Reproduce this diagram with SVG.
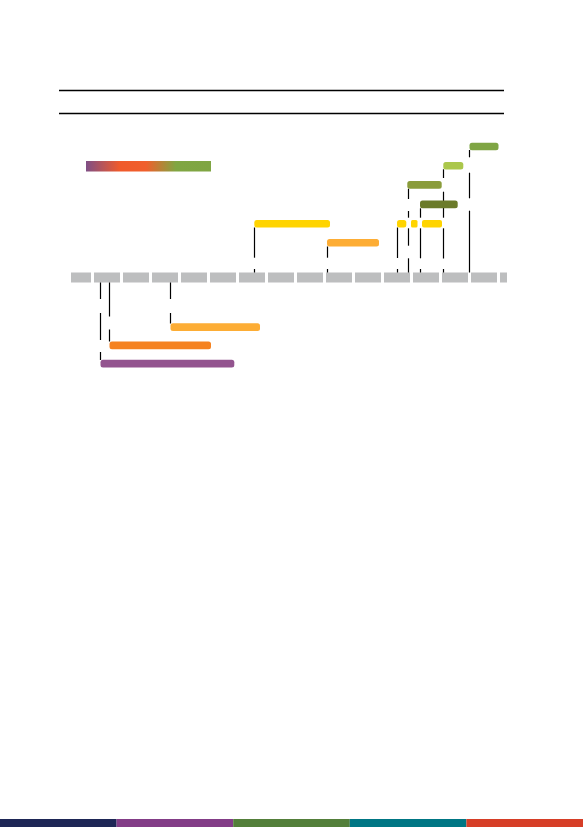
<svg xmlns="http://www.w3.org/2000/svg" width="583" height="827" viewBox="0 0 583 827">
  <defs>
    <linearGradient id="grad" x1="0" y1="0" x2="1" y2="0">
      <stop offset="0" stop-color="#7f4f86"/>
      <stop offset="0.27" stop-color="#f05a2b"/>
      <stop offset="0.48" stop-color="#f05f2c"/>
      <stop offset="0.72" stop-color="#80a642"/>
      <stop offset="1" stop-color="#7fa543"/>
    </linearGradient>
    <style>
      .rule { stroke: #000; stroke-width: 1.3; fill: none; }
      .conn line { stroke: #000; stroke-width: 1.2; }
      .seg { fill: #bdbebf; }
      .bar { stroke: none; }
    </style>
  </defs>
  <rect width="583" height="827" fill="#ffffff"/>

  <g id="header">
    <line class="rule" x1="59" y1="90.5" x2="504" y2="90.5"/>
    <line class="rule" x1="59" y1="113.5" x2="504" y2="113.5"/>
  </g>

  <g id="legend">
    <rect x="86" y="161" width="125" height="10.5" fill="url(#grad)"/>
  </g>

  <g id="timeline">
    <rect class="seg" x="71" y="272.5" width="20" height="10"/>
    <rect class="seg" x="94" y="272.5" width="26" height="10"/>
    <rect class="seg" x="123" y="272.5" width="26" height="10"/>
    <rect class="seg" x="152" y="272.5" width="26" height="10"/>
    <rect class="seg" x="181" y="272.5" width="26" height="10"/>
    <rect class="seg" x="210" y="272.5" width="26" height="10"/>
    <rect class="seg" x="239" y="272.5" width="26" height="10"/>
    <rect class="seg" x="268" y="272.5" width="26" height="10"/>
    <rect class="seg" x="297" y="272.5" width="26" height="10"/>
    <rect class="seg" x="326" y="272.5" width="26" height="10"/>
    <rect class="seg" x="355" y="272.5" width="26" height="10"/>
    <rect class="seg" x="384" y="272.5" width="26" height="10"/>
    <rect class="seg" x="413" y="272.5" width="26" height="10"/>
    <rect class="seg" x="442" y="272.5" width="26" height="10"/>
    <rect class="seg" x="471" y="272.5" width="26" height="10"/>
    <rect class="seg" x="500" y="272.5" width="7" height="10"/>
  </g>

  <g id="connectors" class="conn">
    <line x1="100.5" y1="282.5" x2="100.5" y2="299"/>
    <line x1="100.5" y1="313" x2="100.5" y2="340"/>
    <line x1="100.5" y1="352" x2="100.5" y2="360"/>
    <line x1="109.5" y1="282.5" x2="109.5" y2="316.5"/>
    <line x1="109.5" y1="329.5" x2="109.5" y2="341.5"/>
    <line x1="170.5" y1="282.5" x2="170.5" y2="299"/>
    <line x1="170.5" y1="313" x2="170.5" y2="323.5"/>
    <line x1="254.5" y1="227.5" x2="254.5" y2="257.7"/>
    <line x1="254.5" y1="269" x2="254.5" y2="272.5"/>
    <line x1="327.5" y1="246.5" x2="327.5" y2="257.7"/>
    <line x1="327.5" y1="269" x2="327.5" y2="272.5"/>
    <line x1="397.5" y1="227.5" x2="397.5" y2="258"/>
    <line x1="397.5" y1="269" x2="397.5" y2="272.5"/>
    <line x1="408.5" y1="188.7" x2="408.5" y2="199"/>
    <line x1="408.5" y1="211" x2="408.5" y2="217.7"/>
    <line x1="408.5" y1="228.3" x2="408.5" y2="245.7"/>
    <line x1="408.5" y1="258.3" x2="408.5" y2="272.5"/>
    <line x1="420.5" y1="208.3" x2="420.5" y2="217.7"/>
    <line x1="420.5" y1="228.3" x2="420.5" y2="258.3"/>
    <line x1="420.5" y1="269" x2="420.5" y2="272.5"/>
    <line x1="443.5" y1="169.3" x2="443.5" y2="178"/>
    <line x1="443.5" y1="191.7" x2="443.5" y2="217.7"/>
    <line x1="443.5" y1="228.3" x2="443.5" y2="258.5"/>
    <line x1="443.5" y1="269" x2="443.5" y2="272.5"/>
    <line x1="469.5" y1="150" x2="469.5" y2="157.3"/>
    <line x1="469.5" y1="172.7" x2="469.5" y2="198.3"/>
    <line x1="469.5" y1="210.7" x2="469.5" y2="272.5"/>
  </g>

  <g id="bar-green-top"><rect class="bar" x="469.5" y="142.7" width="29" height="7.5" rx="2.5" fill="#7fa544"/></g>
  <g id="bar-lightgreen"><rect class="bar" x="443.3" y="162" width="20" height="7.5" rx="2.5" fill="#abc74b"/></g>
  <g id="bar-olive"><rect class="bar" x="407.3" y="181" width="34.4" height="7.7" rx="2.5" fill="#8a9c3b"/></g>
  <g id="bar-darkolive"><rect class="bar" x="420" y="200.5" width="37.7" height="7.8" rx="2.5" fill="#6b7b2a"/></g>
  <g id="bar-yellow-1"><rect class="bar" x="254.3" y="220" width="75.7" height="7.5" rx="2.5" fill="#ffd400"/></g>
  <g id="bar-yellow-2"><rect class="bar" x="397" y="220" width="9.3" height="7.5" rx="2.5" fill="#ffd400"/></g>
  <g id="bar-yellow-3"><rect class="bar" x="411" y="220" width="6.5" height="7.5" rx="1.5" fill="#ffd400"/></g>
  <g id="bar-yellow-4"><rect class="bar" x="422" y="220" width="20" height="7.5" rx="2" fill="#ffd400"/></g>
  <g id="bar-lightorange-1"><rect class="bar" x="327" y="239" width="52" height="7.5" rx="2.5" fill="#fdad35"/></g>
  <g id="bar-lightorange-2"><rect class="bar" x="170.5" y="323.3" width="89.5" height="7.7" rx="2.5" fill="#fdad35"/></g>
  <g id="bar-orange"><rect class="bar" x="109.5" y="341.5" width="101.5" height="7.8" rx="2.5" fill="#f58220"/></g>
  <g id="bar-purple"><rect class="bar" x="100.5" y="359.7" width="133.8" height="7.8" rx="2.5" fill="#93548f"/></g>

  <g id="footer">
    <rect x="0" y="819" width="116.6" height="8" fill="#1e2756"/>
    <rect x="116.6" y="819" width="116.6" height="8" fill="#833d87"/>
    <rect x="233.2" y="819" width="116.6" height="8" fill="#537f3a"/>
    <rect x="349.8" y="819" width="116.6" height="8" fill="#007684"/>
    <rect x="466.4" y="819" width="116.6" height="8" fill="#d63e27"/>
  </g>
</svg>
